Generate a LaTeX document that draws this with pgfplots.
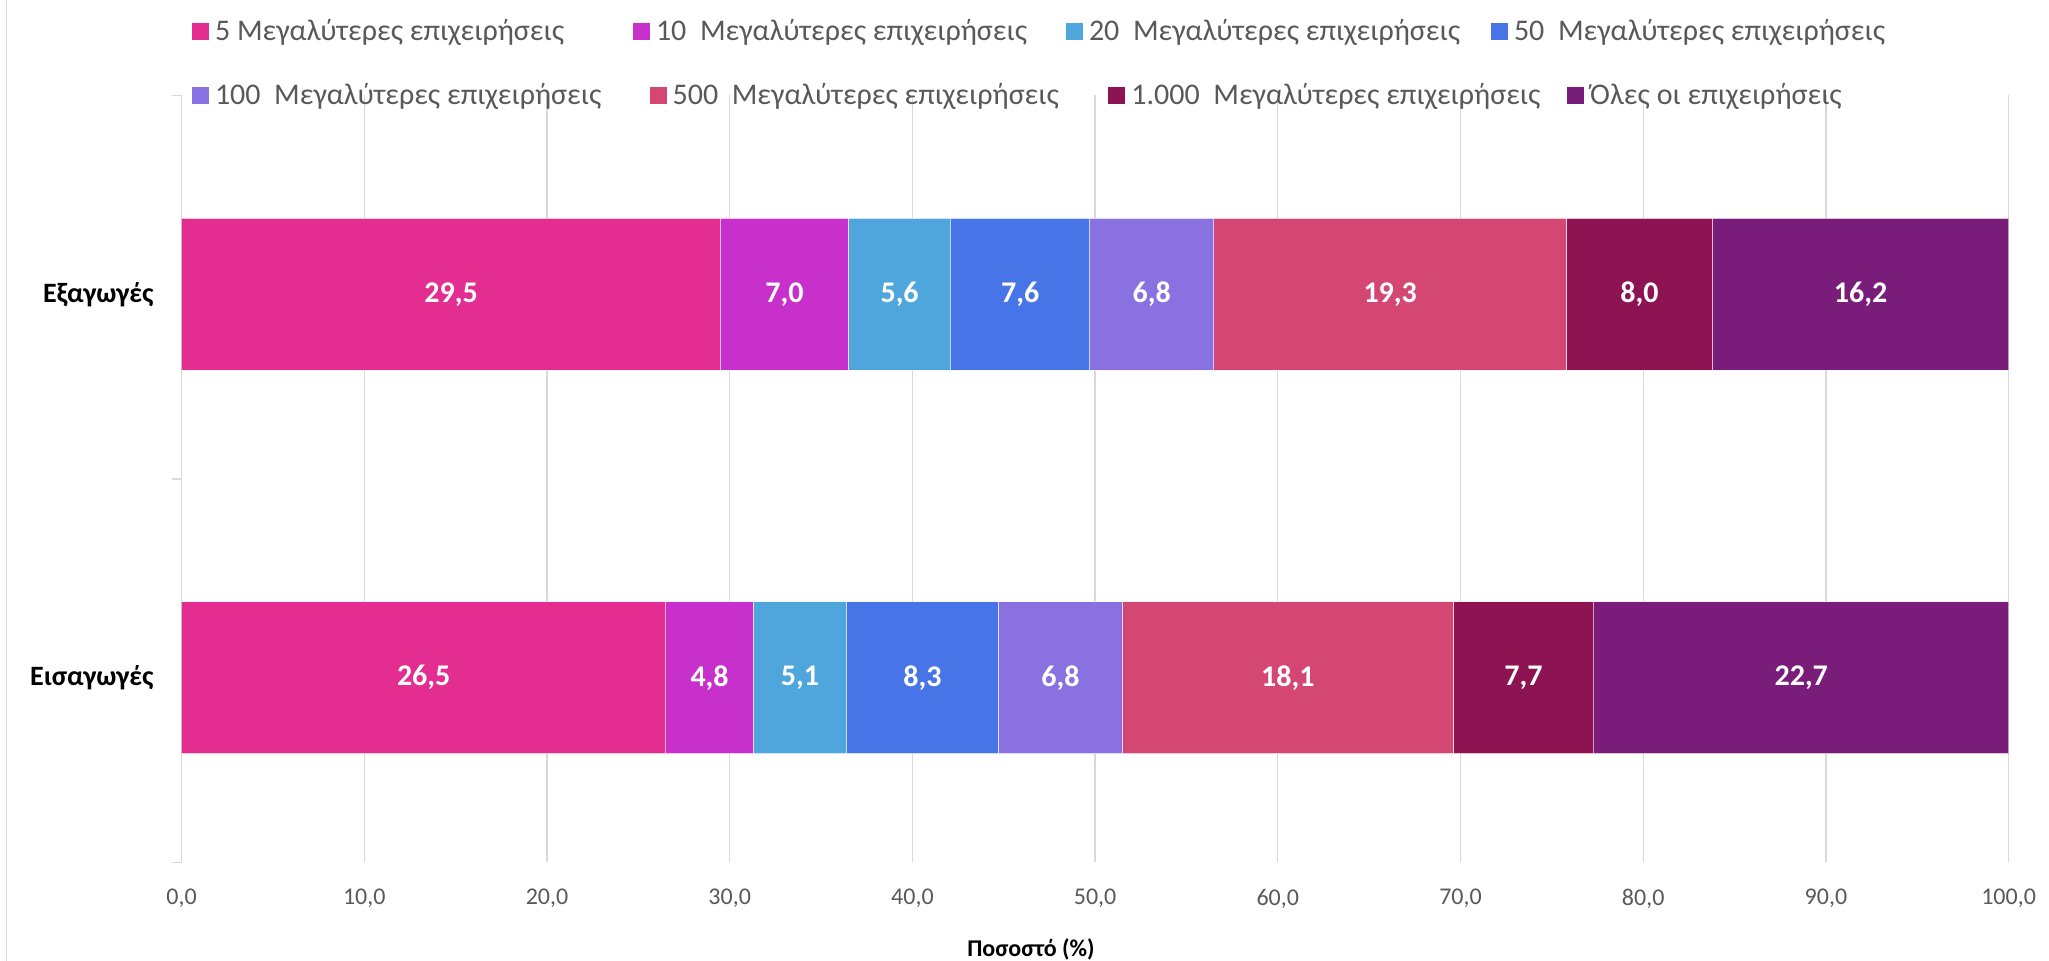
\documentclass[border=0pt]{standalone}
\usepackage{fontspec}
\setmainfont{Carlito}
\usepackage{pgfplots}
\pgfplotsset{compat=1.18}

\definecolor{c5}{HTML}{E32D91}
\definecolor{c10}{HTML}{C830CC}
\definecolor{c20}{HTML}{4EA6DC}
\definecolor{c50}{HTML}{4775E7}
\definecolor{c100}{HTML}{8971E1}
\definecolor{c500}{HTML}{D54773}
\definecolor{c1000}{HTML}{8E1353}
\definecolor{call}{HTML}{7A1C7A}
\definecolor{gridc}{HTML}{D9D9D9}
\definecolor{txt}{HTML}{595959}

\begin{document}
\begin{tikzpicture}
\begin{axis}[
    width=913.5pt, height=383.5pt, scale only axis,
    xbar stacked, bar width=75.8pt, bar shift=-3.5pt,
    xmin=0, xmax=100, ymin=-0.5, ymax=1.5,
    enlargelimits=false,
    axis y line*=left, axis x line*=bottom,
    x axis line style={draw=none},
    y axis line style={draw=gridc, line width=0.65pt},
    xtick={0,10,...,100},
    xmajorgrids, major grid style={gridc, line width=0.65pt},
    ytick={0,1},
    yticklabels={Εισαγωγές, Εξαγωγές},
    minor ytick={-0.5,0.5,1.5},
    major tick length=0pt, minor tick length=5pt, tick align=outside,
    minor tick style={gridc, line width=0.65pt},
    /pgf/number format/.cd, fixed, fixed zerofill, precision=1, use comma, assume math mode=true,
    /pgfplots/.cd,
    xticklabel style={font=\fontsize{12}{14}\selectfont, text=txt, anchor=north, inner sep=0pt, yshift=-13.2pt},
    yticklabel style={font=\bfseries\fontsize{14}{17}\selectfont, text=black, anchor=east, inner sep=0pt, xshift=-13.8pt, yshift=-3.5pt},
    xlabel={Ποσοστό (\%)},
    xlabel style={font=\bfseries\fontsize{12}{14}\selectfont, at={(axis description cs:0.4649,0)}, anchor=center, inner sep=0pt, yshift=-43.25pt},
    nodes near coords,
    every node near coord/.append style={anchor=center, font=\bfseries\fontsize{15}{18}\selectfont, text=white},
    legend image code/.code={\path[#1,draw=none] (0pt,-4.25pt) rectangle (8.5pt,4.25pt);},
    legend columns=4,
    legend style={draw=none, fill=none, inner sep=0pt, outer sep=0pt, anchor=west,
        at={(axis description cs:0.0057,1.0837)},
        font=\fontsize{15}{18}\selectfont, text=txt, cells={anchor=west},
        nodes={inner sep=0pt},
        /tikz/every odd column/.style={column sep=3pt},
        /tikz/every even column/.style={column sep=0pt}},
]
% y = 1: Εξαγωγές, y = 0: Εισαγωγές
\addplot[fill=c5, draw=white, draw opacity=0.6, line width=0.5pt] coordinates {(26.5,0) (29.5,1)};
\addlegendentry{\makebox[209pt][l]{5 Μεγαλύτερες επιχειρήσεις}}
\addplot[fill=c10, draw=white, draw opacity=0.6, line width=0.5pt] coordinates {(4.8,0) (7.0,1)};
\addlegendentry{\makebox[205pt][l]{10\ \ Μεγαλύτερες επιχειρήσεις}}
\addplot[fill=c20, draw=white, draw opacity=0.6, line width=0.5pt] coordinates {(5.1,0) (5.6,1)};
\addlegendentry{\makebox[201pt][l]{20\ \ Μεγαλύτερες επιχειρήσεις}}
\addplot[fill=c50, draw=white, draw opacity=0.6, line width=0.5pt] coordinates {(8.3,0) (7.6,1)};
\addlegendentry{50\ \ Μεγαλύτερες επιχειρήσεις}
\addplot[fill=c100, draw=white, draw opacity=0.6, line width=0.5pt] coordinates {(6.8,0) (6.8,1)};
\addplot[fill=c500, draw=white, draw opacity=0.6, line width=0.5pt] coordinates {(18.1,0) (19.3,1)};
\addplot[fill=c1000, draw=white, draw opacity=0.6, line width=0.5pt] coordinates {(7.7,0) (8.0,1)};
\addplot[fill=call, draw=white, draw opacity=0.6, line width=0.5pt] coordinates {(22.7,0) (16.2,1)};
\end{axis}

% second legend row
\begin{axis}[
    width=913.5pt, height=383.5pt, scale only axis,
    hide axis, xmin=0, xmax=1, ymin=0, ymax=1,
    legend image code/.code={\path[#1,draw=none] (0pt,-4.25pt) rectangle (8.5pt,4.25pt);},
    legend columns=4,
    legend style={draw=none, fill=none, inner sep=0pt, outer sep=0pt, anchor=west,
        at={(axis description cs:0.0057,1.0)},
        font=\fontsize{15}{18}\selectfont, text=txt, cells={anchor=west},
        nodes={inner sep=0pt},
        /tikz/every odd column/.style={column sep=3pt},
        /tikz/every even column/.style={column sep=0pt}},
]
\addlegendimage{fill=c100}
\addlegendentry{\makebox[217.3pt][l]{100\ \ Μεγαλύτερες επιχειρήσεις}}
\addlegendimage{fill=c500}
\addlegendentry{\makebox[217.9pt][l]{500\ \ Μεγαλύτερες επιχειρήσεις}}
\addlegendimage{fill=c1000}
\addlegendentry{\makebox[217.9pt][l]{1.000\ \ Μεγαλύτερες επιχειρήσεις}}
\addlegendimage{fill=call}
\addlegendentry{Όλες οι επιχειρήσεις}
\end{axis}

\draw[gridc, line width=0.8pt] (-87.5pt,-49.25pt) -- (-87.5pt,431.25pt);
\pgfresetboundingbox
\path[use as bounding box] (-90.8pt,-49.25pt) rectangle (933.7pt,431.25pt);
\end{tikzpicture}
\end{document}
